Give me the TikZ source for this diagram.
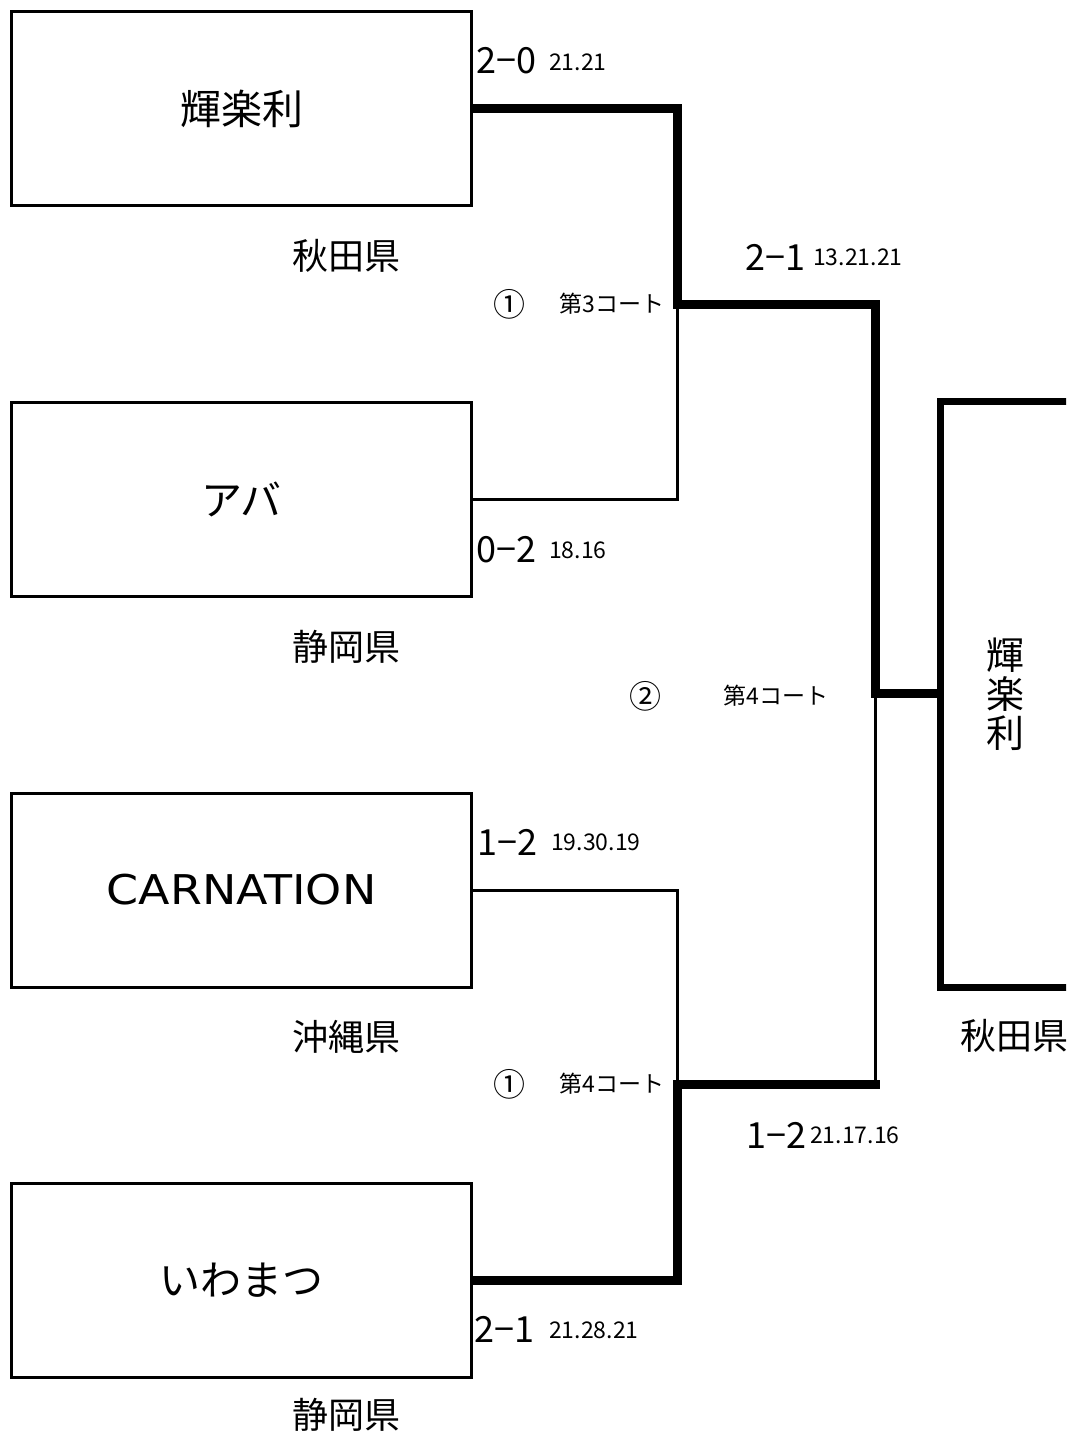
\documentclass[tikz,border=0pt]{standalone}
\usepackage{fontspec}
\setmainfont{Noto Sans CJK JP}
\newfontfamily\widelatin{DejaVu Sans}
\begin{document}
\begin{tikzpicture}[x=1pt,y=-1pt,
  team/.style={draw,line width=3pt,minimum width=460pt,minimum height=194pt,inner sep=0pt,
    font=\fontsize{41}{48}\selectfont},
  pref/.style={font=\fontsize{36}{40}\selectfont,inner sep=0pt},
  bigscore/.style={anchor=base west,inner sep=0pt,font=\fontsize{36}{40}\selectfont},
  smallscore/.style={anchor=base west,inner sep=0pt,font=\fontsize{23}{26}\selectfont},
  court/.style={inner sep=0pt,font=\fontsize{23}{26}\selectfont},
  courtnum/.style={inner sep=0pt,font=\fontsize{32}{34}\selectfont},
  win/.style={line width=9pt,line join=miter},
  lose/.style={line width=3pt}]
\clip (0,0) rectangle (1066,1432);
\fill[white] (0,0) rectangle (1066,1432);
% teams
\node[team] (b1) at (241.5,108.5) {輝楽利};
\node[team] (b2) at (241.5,499) {アバ};
\node[team] (b3) at (241.5,890) {\widelatin\scalebox{1.12}[1]{CARNATION}};
\node[team] (b4) at (241.5,1280) {いわまつ};
\node[draw,line width=7pt,minimum width=200pt,minimum height=586pt,inner sep=0pt] (w) at (1040,694) {};
\node[inner sep=0pt,align=center,font=\fontsize{38}{39}\selectfont] (wname) at (1005,694) {輝\\楽\\利};
% prefectures
\node[pref] (p1) at (346,256) {秋田県};
\node[pref] (p2) at (346,647) {静岡県};
\node[pref] (p3) at (346,1037) {沖縄県};
\node[pref] (p4) at (346,1415) {静岡県};
\node[pref] (pw) at (1014,1036) {秋田県};
% junctions
\coordinate (m1) at (677.5,304);
\coordinate (m2) at (677.5,1084);
\coordinate (fin) at (875.5,693.5);
% connectors
\draw[lose] (b2.east) -| (m1);
\draw[lose] (b3.east) -| (m2);
\draw[lose] (m2 -| fin) -- (fin);
\draw[win] (b1.east) -| (m1) -| (fin) -- (w.west |- fin);
\draw[win] (b4.east) -| (m2) -- ([xshift=4.5pt]m2 -| fin);
% scores
\node[bigscore] (s1) at (476,73) {2−0};
\node[smallscore] (t1) at (549,70) {21.21};
\node[bigscore] (s2) at (745,270) {2−1};
\node[smallscore] (t2) at (813,265) {13.21.21};
\node[bigscore] (s3) at (476,562) {0−2};
\node[smallscore] (t3) at (549,558) {18.16};
\node[bigscore] (s4) at (477,855) {1−2};
\node[smallscore] (t4) at (551,850) {19.30.19};
\node[bigscore] (s5) at (746,1148) {1−2};
\node[smallscore] (t5) at (810,1143) {21.17.16};
\node[bigscore] (s6) at (474,1342) {2−1};
\node[smallscore] (t6) at (549,1338) {21.28.21};
% courts
\node[courtnum] (c1n) at (509,304) {①};
\node[court] (c1) at (612,304) {第3コート};
\node[courtnum] (c2n) at (645,696) {②};
\node[court] (c2) at (776,696) {第4コート};
\node[courtnum] (c3n) at (509,1084) {①};
\node[court] (c3) at (612,1084) {第4コート};
\end{tikzpicture}
\end{document}
